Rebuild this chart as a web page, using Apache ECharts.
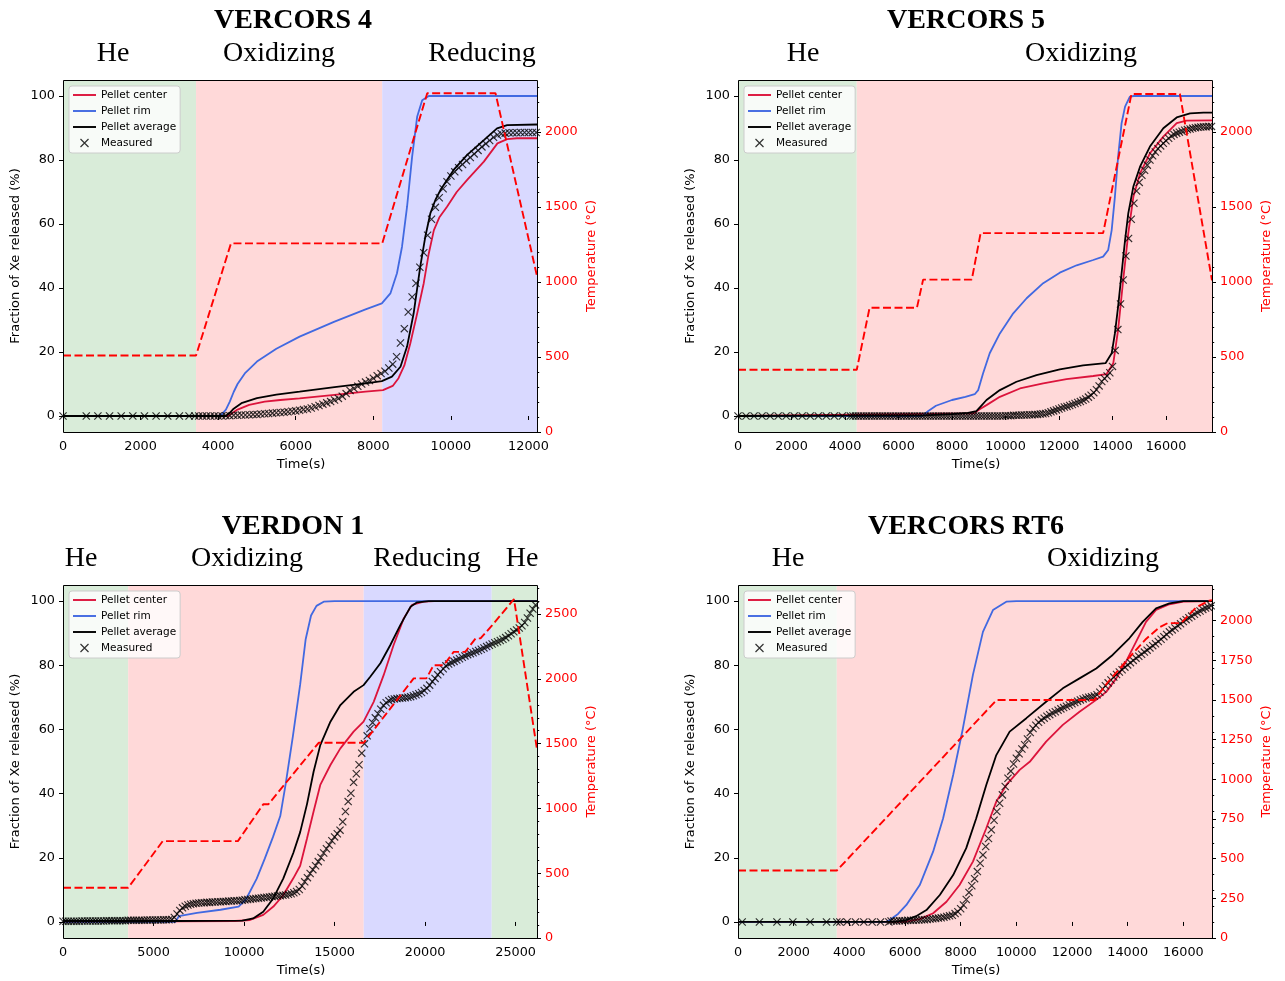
<!DOCTYPE html>
<html><head><meta charset="utf-8">
<script src="https://cdn.jsdelivr.net/npm/echarts@6/dist/echarts.min.js"></script>
<style>html,body{margin:0;padding:0;background:#fff}#c{width:1285px;height:981px}</style>
</head><body><div id="c"></div>
<script>
// ---------------- DATA ----------------
const titles = ['VERCORS 4', 'VERCORS 5', 'VERDON 1', 'VERCORS RT6'];
const seriesNames = ['Pellet center', 'Pellet rim', 'Pellet average', 'Measured'];
const xAxisName = 'Time(s)';
const leftAxisName = 'Fraction of Xe released (%)';
const rightAxisName = 'Temperature (°C)';

const fracTicks = [0, 20, 40, 60, 80, 100];
const xTicksV4 = [0, 2000, 4000, 6000, 8000, 10000, 12000];
const xTicksV5 = [0, 2000, 4000, 6000, 8000, 10000, 12000, 14000, 16000];
const xTicksV1 = [0, 5000, 10000, 15000, 20000, 25000];
const xTicksRT6 = [0, 2000, 4000, 6000, 8000, 10000, 12000, 14000, 16000];
const tTicksV4 = [0, 500, 1000, 1500, 2000];
const tTicksV5 = [0, 500, 1000, 1500, 2000];
const tTicksV1 = [0, 500, 1000, 1500, 2000, 2500];
const tTicksRT6 = [0, 250, 500, 750, 1000, 1250, 1500, 1750, 2000];

// phases: [start, end, atmosphere]
const v4Phases = [[0, 3430, 'He'], [3430, 8230, 'Oxidizing'], [8230, 12220, 'Reducing']];
const v5Phases = [[0, 4440, 'He'], [4440, 17720, 'Oxidizing']];
const v1Phases = [[0, 3600, 'He'], [3600, 16610, 'Oxidizing'], [16610, 23680, 'Reducing'], [23680, 26180, 'He']];
const rt6Phases = [[0, 3550, 'He'], [3550, 17030, 'Oxidizing']];

// ---- VERCORS 4 ----
const v4Center = [[0,0],[4250,0],[4350,0.8],[4500,2.0],[4800,3.5],[5200,4.5],[5600,5.0],[6100,5.5],[7000,6.6],[7800,7.6],[8250,8.1],[8500,9.4],[8650,11.8],[8800,15.8],[8950,22.5],[9130,32],[9300,41.5],[9430,50.8],[9560,58],[9700,62],[9900,65.4],[10150,70],[10420,73.8],[10850,79.5],[11200,85.2],[11450,86.5],[11700,86.8],[12220,86.8]];
const v4Rim = [[0,0],[4000,0],[4100,0.6],[4200,2.0],[4300,4.5],[4400,7.5],[4500,10],[4700,13.5],[5000,17],[5500,21],[6100,24.8],[7000,29.5],[7800,33.3],[8220,35.2],[8440,38.3],[8610,44.6],[8740,52.9],[8870,65.4],[9000,81],[9130,93.5],[9260,98.7],[9430,100],[12220,100]];
const v4Average = [[0,0],[4200,0],[4300,1.0],[4400,2.3],[4600,4.0],[5000,5.6],[5500,6.7],[6100,7.6],[7000,9.0],[7800,10.2],[8220,10.9],[8480,12.3],[8700,15.4],[8870,21.7],[9040,32.1],[9210,46.7],[9340,56],[9470,63.3],[9600,67.5],[9730,70.6],[10070,76.9],[10420,81.6],[10850,86.2],[11190,89.9],[11450,90.9],[12220,91.1]];
const v4Temperature = [[0,510],[3430,510],[4330,1258],[8230,1258],[9390,2260],[11150,2260],[12220,1040]];
const v4Measured = [[0,0],[600,0],[900,0],[1200,0],[1500,0],[1800,0],[2100,0],[2400,0],[2700,0],[3000,0],[3250,0],[3400,0],[3500,0],[3600,0],[3700,0],[3800,0],[3900,0],[4000,0],[4100,0],[4200,0.1],[4300,0.1],[4400,0.2],[4500,0.2],[4600,0.3],[4700,0.3],[4800,0.4],[4900,0.5],[5000,0.5],[5100,0.6],[5200,0.7],[5300,0.8],[5400,0.9],[5500,1.0],[5600,1.1],[5700,1.2],[5800,1.3],[5900,1.5],[6000,1.6],[6100,1.8],[6200,2.0],[6300,2.2],[6400,2.5],[6500,2.9],[6600,3.3],[6700,3.7],[6800,4.1],[6900,4.5],[7000,5.0],[7100,5.5],[7200,6.2],[7300,7.0],[7400,8.0],[7500,8.6],[7600,9.3],[7700,10.0],[7800,10.6],[7900,11.1],[8000,11.8],[8100,12.6],[8200,13.3],[8300,14.0],[8400,15.0],[8500,16.2],[8600,18.5],[8700,22.8],[8800,27.3],[8900,32.5],[9000,37.2],[9100,41.5],[9200,46.5],[9300,51.0],[9400,56.5],[9500,61.5],[9600,65.2],[9700,68.2],[9800,71.0],[9900,73.2],[10000,75.0],[10100,76.3],[10200,77.6],[10300,78.6],[10400,79.8],[10500,80.8],[10600,81.9],[10700,83.0],[10800,84.1],[10900,85.1],[11000,86.1],[11100,87.1],[11200,87.8],[11300,88.2],[11400,88.4],[11500,88.5],[11600,88.5],[11700,88.5],[11800,88.6],[11900,88.6],[12000,88.6],[12100,88.6],[12200,88.6]];

// ---- VERCORS 5 ----
const v5Center = [[0,0],[8800,0.8],[8910,1.4],[9050,2.2],[9290,3.4],[9790,6.0],[10540,8.6],[11410,10.2],[12280,11.5],[13280,12.5],[13780,13.1],[14030,16.5],[14210,26.9],[14400,42.5],[14590,57.1],[14780,68.5],[15030,75.8],[15400,82.1],[15900,87.3],[16400,91.5],[16770,92.3],[17720,92.4]];
const v5Rim = [[0,0],[6900,0],[7100,1.5],[7400,3.2],[8000,5.0],[8500,6.0],[8850,6.8],[8980,8.1],[9160,13.3],[9410,19.6],[9790,25.8],[10290,32.1],[10790,36.8],[11410,41.5],[12030,44.8],[12660,47.1],[13280,48.75],[13650,49.8],[13840,51.9],[13970,58.1],[14090,68.5],[14210,81],[14340,91.5],[14470,96.7],[14650,99.8],[14800,100],[17720,100]];
const v5Average = [[0,0],[7000,0.2],[8000,0.6],[8600,1.0],[8910,1.5],[9050,2.8],[9290,5.0],[9790,8.1],[10410,10.7],[11160,12.8],[12030,14.6],[12900,15.8],[13740,16.5],[13970,19.6],[14090,25.8],[14210,34.2],[14340,44.6],[14470,55],[14590,63.3],[14780,71.7],[15030,77.9],[15400,84.2],[15900,89.9],[16400,93.3],[16900,94.6],[17400,94.8],[17720,94.8]];
const v5Temperature = [[0,415],[4440,415],[4920,828],[6690,828],[6920,1015],[8740,1015],[9070,1325],[13650,1325],[14710,2252],[16520,2252],[17720,1010]];
const v5Measured = [[0,0],[300,0],[600,0],[900,0],[1200,0],[1500,0],[1800,0],[2100,0],[2400,0],[2700,0],[3000,0],[3300,0],[3600,0],[3900,0],[4200,0],[4300,0],[4400,0],[4500,0],[4600,0],[4700,0],[4800,0],[4900,0],[5000,0],[5100,0],[5200,0],[5300,0],[5400,0],[5500,0],[5600,0],[5700,0],[5800,0],[5900,0],[6000,0],[6100,0],[6200,0],[6300,0],[6400,0],[6500,0],[6600,0],[6700,0],[6800,0],[6900,0],[7000,0],[7100,0],[7200,0],[7300,0],[7400,0],[7500,0],[7600,0],[7700,0],[7800,0],[7900,0],[8000,0],[8100,0],[8200,0],[8300,0],[8400,0],[8500,0],[8600,0],[8700,0],[8800,0],[8900,0],[9000,0],[9100,0],[9200,0],[9300,0],[9400,0],[9500,0],[9600,0],[9700,0],[9800,0],[9900,0],[10000,0.1],[10100,0.1],[10200,0.1],[10300,0.2],[10400,0.2],[10500,0.2],[10600,0.3],[10700,0.3],[10800,0.3],[10900,0.4],[11000,0.4],[11100,0.5],[11200,0.5],[11300,0.6],[11400,0.7],[11500,0.8],[11600,1.0],[11700,1.3],[11800,1.6],[11900,1.9],[12000,2.2],[12100,2.5],[12200,2.8],[12300,3.0],[12400,3.3],[12500,3.6],[12600,3.9],[12700,4.2],[12800,4.5],[12900,4.9],[13000,5.3],[13100,5.9],[13200,6.5],[13300,7.3],[13400,8.2],[13500,9.4],[13600,10.8],[13700,11.7],[13800,12.5],[13900,13.5],[14000,15.5],[14100,20.5],[14200,27],[14300,35],[14400,42.5],[14500,50],[14600,55.5],[14700,61.5],[14800,66.5],[14900,70.3],[15000,73],[15100,75.2],[15200,76.8],[15300,78.4],[15400,80],[15500,81.3],[15600,82.5],[15700,83.5],[15800,84.4],[15900,85.2],[16000,86],[16100,86.8],[16200,87.5],[16300,88],[16400,88.4],[16500,88.7],[16600,89],[16700,89.3],[16800,89.5],[16900,89.7],[17000,89.9],[17100,90.1],[17200,90.2],[17300,90.3],[17400,90.4],[17500,90.4],[17600,90.5],[17700,90.5]];

// ---- VERDON 1 ----
const v1Center = [[0,0],[6300,0.2],[9500,0.3],[10330,0.6],[11060,2.2],[11620,4.8],[12170,8.4],[12720,13.6],[13100,17.5],[13480,26.1],[13840,34.4],[14210,42.7],[14770,48.9],[15320,54.1],[16050,59.3],[16600,62.4],[17160,68.6],[17710,76.9],[18260,86.3],[18820,94.6],[19280,98.8],[19920,99.8],[20500,100],[26180,100]];
const v1Rim = [[0,0],[6200,0],[6400,1.8],[7400,2.8],[8700,3.8],[9700,4.8],[10100,7],[10700,13.5],[11150,19.8],[11600,26.5],[12000,33],[12300,43],[12700,58],[13100,74],[13400,88],[13700,95.5],[14000,98.5],[14400,99.8],[15000,100],[26180,100]];
const v1Average = [[0,0.3],[6300,0.3],[9900,0.4],[10500,1.1],[11060,3.2],[11620,7.4],[12170,13.6],[12720,21.5],[13100,28],[13480,36.8],[13840,46.8],[14210,55.1],[14770,62.4],[15320,67.6],[16050,71.7],[16600,73.8],[16970,76.4],[17530,80.6],[18080,86.3],[18630,92.5],[19190,98.2],[19560,99.6],[20200,100],[26180,100]];
const v1Temperature = [[0,388],[3600,388],[5510,748],[9660,748],[11060,1032],[11340,1032],[14120,1507],[16610,1507],[19370,2004],[20070,2004],[20470,2106],[21030,2106],[21580,2209],[22220,2209],[22790,2313],[23060,2313],[23710,2415],[24910,2616],[26180,1455]];
const v1Measured = [[0,0.2],[150,0.2],[300,0.2],[450,0.2],[600,0.2],[750,0.2],[900,0.2],[1050,0.3],[1200,0.3],[1350,0.3],[1500,0.3],[1650,0.3],[1800,0.3],[1950,0.3],[2100,0.3],[2250,0.3],[2400,0.4],[2550,0.4],[2700,0.4],[2850,0.4],[3000,0.4],[3150,0.4],[3300,0.4],[3450,0.4],[3600,0.5],[3750,0.5],[3900,0.5],[4050,0.5],[4200,0.5],[4350,0.5],[4500,0.5],[4650,0.6],[4800,0.6],[4950,0.6],[5100,0.6],[5250,0.6],[5400,0.6],[5550,0.7],[5700,0.7],[5850,0.7],[6000,0.8],[6150,1.4],[6300,2.5],[6450,3.6],[6600,4.4],[6750,4.9],[6900,5.3],[7050,5.5],[7200,5.7],[7350,5.8],[7500,5.9],[7650,6.0],[7800,6.0],[7950,6.1],[8100,6.1],[8250,6.2],[8400,6.2],[8550,6.3],[8700,6.3],[8850,6.4],[9000,6.4],[9150,6.5],[9300,6.5],[9450,6.6],[9600,6.6],[9750,6.7],[9900,6.8],[10050,6.9],[10200,7.0],[10350,7.1],[10500,7.2],[10650,7.3],[10800,7.4],[10950,7.5],[11100,7.6],[11250,7.7],[11400,7.8],[11550,7.9],[11700,8.0],[11850,8.1],[12000,8.2],[12150,8.3],[12300,8.4],[12450,8.6],[12600,8.8],[12750,9.1],[12900,9.5],[13050,10.1],[13200,11.2],[13350,12.5],[13500,13.8],[13650,15.1],[13800,16.3],[13950,17.5],[14100,18.8],[14250,20.1],[14400,21.5],[14550,22.8],[14700,24.0],[14850,25.3],[15000,26.5],[15150,27.5],[15300,28.6],[15450,31.2],[15600,34.4],[15750,37.5],[15900,40.1],[16050,43.5],[16200,46.2],[16350,49.0],[16500,52.6],[16650,55.5],[16800,58.0],[16950,60.2],[17100,62.1],[17250,63.6],[17400,64.9],[17550,66.3],[17700,67.5],[17850,68.3],[18000,68.9],[18150,69.3],[18300,69.5],[18450,69.6],[18600,69.7],[18750,69.8],[18900,69.9],[19050,70.0],[19200,70.2],[19350,70.5],[19500,70.8],[19650,71.1],[19800,71.5],[19950,72.1],[20100,72.8],[20250,73.8],[20400,74.9],[20550,75.9],[20700,77.0],[20850,78.0],[21000,78.9],[21150,79.8],[21300,80.4],[21450,80.8],[21600,81.2],[21750,81.6],[21900,82.0],[22050,82.5],[22200,82.9],[22350,83.3],[22500,83.6],[22650,83.9],[22800,84.3],[22950,84.6],[23100,85.0],[23250,85.4],[23400,85.8],[23550,86.2],[23700,86.6],[23850,87.0],[24000,87.3],[24150,87.7],[24300,88.1],[24450,88.6],[24600,89.2],[24750,89.8],[24900,90.4],[25050,91.0],[25200,91.6],[25350,92.3],[25500,93.3],[25650,94.7],[25800,96.2],[25950,97.5],[26100,98.8]];

// ---- VERCORS RT6 ----
const rt6Center = [[0,0],[6000,0],[6530,0.9],[7010,2.7],[7490,6.3],[7960,11.5],[8440,18.8],[8920,29.2],[9280,37.5],[9640,42.7],[10120,47.4],[10480,49.9],[11070,56.2],[11670,61.4],[12270,65.5],[12870,69.2],[13230,71.7],[13590,75.9],[13940,81.1],[14300,87.3],[14660,93.5],[15020,97.2],[15500,99],[16000,99.8],[17030,100]];
const rt6Rim = [[0,0],[5300,0],[5450,0.6],[5750,2.5],[6050,5.3],[6530,11.5],[7010,21.9],[7370,32.3],[7730,45.8],[8080,60.3],[8440,77],[8800,90.4],[9160,97.2],[9640,99.8],[10000,100],[17030,100]];
const rt6Average = [[0,0],[5600,0],[6050,0.6],[6400,1.8],[6770,3.7],[7250,8.4],[7730,14.6],[8200,23],[8560,32.3],[8920,42.7],[9280,52],[9760,59.3],[10360,63.5],[11070,68.6],[11670,72.8],[12270,75.9],[12870,79],[13460,83.2],[14060,88.4],[14540,93.5],[15020,97.7],[15500,99.3],[16000,100],[17030,100]];
const rt6Temperature = [[0,425],[3550,425],[9290,1500],[12800,1500],[13290,1612],[14060,1769],[14660,1885],[15140,1958],[15440,1985],[15920,1985],[16460,2084],[16930,2126],[17030,2130]];
const rt6Measured = [[150,0],[770,0],[1400,0],[1970,0],[2590,0],[3180,0],[3550,0],[3660,0],[3920,0],[4220,0],[4520,0],[4820,0],[5120,0],[5420,0],[5500,0.3],[5600,0.3],[5700,0.3],[5800,0.4],[5900,0.4],[6000,0.4],[6100,0.5],[6200,0.5],[6300,0.5],[6400,0.6],[6500,0.6],[6600,0.7],[6700,0.7],[6800,0.8],[6900,0.9],[7000,1.0],[7100,1.1],[7200,1.2],[7300,1.3],[7400,1.5],[7500,1.7],[7600,1.9],[7700,2.1],[7800,2.6],[7900,3.2],[8000,4.1],[8100,5.3],[8200,7.0],[8300,9.2],[8400,11.3],[8500,13.5],[8600,15.7],[8700,18.3],[8800,20.9],[8900,23.5],[9000,26],[9100,28.7],[9200,31.7],[9300,34.4],[9400,37],[9500,39.6],[9600,42.2],[9700,44.8],[9800,47],[9900,49.2],[10000,51],[10100,52.4],[10200,53.9],[10300,55.2],[10400,57],[10500,59],[10600,60.3],[10700,61.3],[10800,62.2],[10900,62.9],[11000,63.5],[11100,64.1],[11200,64.6],[11300,65.1],[11400,65.5],[11500,66],[11600,66.4],[11700,66.8],[11800,67.2],[11900,67.6],[12000,68],[12100,68.4],[12200,68.8],[12300,69.2],[12400,69.5],[12500,69.8],[12600,70],[12700,70.2],[12800,70.4],[12900,70.8],[13000,71.6],[13100,72.6],[13200,73.6],[13300,74.5],[13400,75.4],[13500,76.3],[13600,77.1],[13700,77.9],[13800,78.6],[13900,79.4],[14000,80.1],[14100,80.8],[14200,81.5],[14300,82.2],[14400,82.8],[14500,83.4],[14600,84.1],[14700,84.7],[14800,85.4],[14900,86.1],[15000,86.7],[15100,87.4],[15200,88.1],[15300,88.9],[15400,89.6],[15500,90.4],[15600,91],[15700,91.6],[15800,92.3],[15900,92.9],[16000,93.6],[16100,94.2],[16200,94.8],[16300,95.3],[16400,95.9],[16500,96.4],[16600,96.9],[16700,97.4],[16800,97.8],[16900,98.1],[17000,98.5]];

// ---------------- LAYOUT / STYLE ----------------
const FONT = 'DejaVu Sans';
const SERIF = 'Liberation Serif';
const phaseColor = { 'He': '#d9ecd9', 'Oxidizing': '#ffd9d9', 'Reducing': '#d9d9ff' };
const colCenter = '#dc143c', colRim = '#4169e1', colAvg = '#000000', colTemp = '#ff0000';
const LINE_ICON = 'path://M0,0L24,0L24,2L0,2Z';
const X_PATH = 'path://M0,0L10,10M10,0L0,10';

const panels = [
  { left: 63, top: 80, width: 474, height: 352, xMax: 12220, tMax: 2348, xTicks: xTicksV4, tTicks: tTicksV4,
    phases: v4Phases, center: v4Center, rim: v4Rim, avg: v4Average, meas: v4Measured, temp: v4Temperature,
    titleX: 293, titleY: 21, phaseY: 54, phaseX: [113, 279, 482], labels: ['He', 'Oxidizing', 'Reducing'] },
  { left: 738, top: 80, width: 474, height: 352, xMax: 17720, tMax: 2345, xTicks: xTicksV5, tTicks: tTicksV5,
    phases: v5Phases, center: v5Center, rim: v5Rim, avg: v5Average, meas: v5Measured, temp: v5Temperature,
    titleX: 966, titleY: 21, phaseY: 54, phaseX: [803, 1081], labels: ['He', 'Oxidizing'] },
  { left: 63, top: 585, width: 474, height: 353, xMax: 26180, tMax: 2725, xTicks: xTicksV1, tTicks: tTicksV1,
    phases: v1Phases, center: v1Center, rim: v1Rim, avg: v1Average, meas: v1Measured, temp: v1Temperature,
    titleX: 293, titleY: 527, phaseY: 559, phaseX: [81, 247, 427, 522], labels: ['He', 'Oxidizing', 'Reducing', 'He'] },
  { left: 738, top: 585, width: 474, height: 353, xMax: 17030, tMax: 2225, xTicks: xTicksRT6, tTicks: tTicksRT6,
    phases: rt6Phases, center: rt6Center, rim: rt6Rim, avg: rt6Average, meas: rt6Measured, temp: rt6Temperature,
    titleX: 966, titleY: 527, phaseY: 559, phaseX: [788, 1103], labels: ['He', 'Oxidizing'] }
];

function minorTicks(max) {
  const out = [];
  for (let v = 100; v < max; v += 100) if (v % 500 !== 0) out.push(v);
  return out;
}
const plain = v => String(v);

const grid = [], xAxis = [], yAxis = [], series = [], legend = [], graphic = [];
const tickLine = { color: '#000', width: 1 };
const labelStyle = { fontFamily: FONT, fontSize: 12.8, color: '#000', formatter: plain };

panels.forEach((p, i) => {
  grid.push({ left: p.left, top: p.top, width: p.width, height: p.height, show: false });
  xAxis.push({ type: 'value', gridIndex: i, min: 0, max: p.xMax,
    axisLine: { show: false }, splitLine: { show: false },
    axisTick: { show: true, customValues: p.xTicks, length: 4, lineStyle: tickLine },
    axisLabel: Object.assign({ customValues: p.xTicks, margin: 8 }, labelStyle) });
  yAxis.push({ type: 'value', gridIndex: i, position: 'left', min: -5, max: 105,
    axisLine: { show: false }, splitLine: { show: false },
    axisTick: { show: true, customValues: fracTicks, length: 4, lineStyle: tickLine },
    axisLabel: Object.assign({ customValues: fracTicks, margin: 8 }, labelStyle) });
  yAxis.push({ type: 'value', gridIndex: i, position: 'right', min: 0, max: p.tMax,
    axisLine: { show: false }, splitLine: { show: false },
    axisTick: { show: true, customValues: p.tTicks, length: 4, lineStyle: tickLine },
    axisLabel: Object.assign({}, labelStyle, { customValues: p.tTicks, margin: 8, color: colTemp }) });
  yAxis.push({ type: 'value', gridIndex: i, position: 'right', min: 0, max: p.tMax,
    axisLine: { show: false }, splitLine: { show: false },
    axisTick: { show: true, customValues: minorTicks(p.tMax), length: 2.2, lineStyle: tickLine },
    axisLabel: { show: false } });

  const yl = 3 * i, yr = 3 * i + 1;
  series.push({ type: 'custom', xAxisIndex: i, yAxisIndex: yl, z: 0, silent: true,
    data: p.phases.map(b => [b[0], b[1]]),
    encode: { x: [0, 1] },
    renderItem: (params, api) => {
      const x0 = api.coord([api.value(0), 50])[0];
      const x1 = api.coord([api.value(1), 50])[0];
      const cs = params.coordSys;
      return { type: 'rect', shape: { x: x0, y: cs.y, width: x1 - x0, height: cs.height },
        style: { fill: phaseColor[p.phases[params.dataIndex][2]] } };
    } });
  const mkLine = (name, data, color, z) => ({ name, type: 'line', xAxisIndex: i, yAxisIndex: yl, data,
    symbol: 'none', showSymbol: false, z, lineStyle: { color, width: 1.8 }, itemStyle: { color } });
  series.push(mkLine(seriesNames[0], p.center, colCenter, 2));
  series.push(mkLine(seriesNames[1], p.rim, colRim, 3));
  series.push(mkLine(seriesNames[2], p.avg, colAvg, 4));
  series.push({ name: seriesNames[3], type: 'scatter', xAxisIndex: i, yAxisIndex: yl, data: p.meas, z: 5,
    symbol: X_PATH, symbolSize: 7.2,
    itemStyle: { color: 'rgba(0,0,0,0)', borderColor: '#000', borderWidth: 1.15 } });
  series.push({ name: 'Temperature', type: 'line', xAxisIndex: i, yAxisIndex: yr, data: p.temp, z: 6,
    symbol: 'none', showSymbol: false, lineStyle: { color: colTemp, width: 1.9, type: [8, 3.5] } });

  legend.push({ left: p.left + 6, top: p.top + 6, orient: 'vertical', selectedMode: false,
    data: [
      { name: seriesNames[0], icon: LINE_ICON, itemStyle: { color: colCenter, borderWidth: 0 } },
      { name: seriesNames[1], icon: LINE_ICON, itemStyle: { color: colRim, borderWidth: 0 } },
      { name: seriesNames[2], icon: LINE_ICON, itemStyle: { color: colAvg, borderWidth: 0 } },
      { name: seriesNames[3], icon: X_PATH, itemStyle: { color: 'rgba(0,0,0,0)', borderColor: '#000', borderWidth: 1.2 } }
    ],
    itemWidth: 23, itemHeight: 8, itemGap: 4, padding: [3, 4, 4, 4],
    backgroundColor: 'rgba(255,255,255,0.8)', borderColor: '#cccccc', borderWidth: 1, borderRadius: 3,
    textStyle: { fontFamily: FONT, fontSize: 10.5, color: '#000', lineHeight: 12 } });

  graphic.push({ type: 'rect', z: 100, silent: true,
    shape: { x: p.left + 0.5, y: p.top + 0.5, width: p.width, height: p.height },
    style: { fill: 'none', stroke: '#000', lineWidth: 1 } });
  graphic.push({ type: 'text', x: p.titleX, y: p.titleY, z: 100,
    style: { text: titles[i], font: 'bold 28px "' + SERIF + '"', fill: '#000',
      textAlign: 'center', textVerticalAlign: 'middle', align: 'center', verticalAlign: 'middle' } });
  p.labels.forEach((lab, k) => {
    graphic.push({ type: 'text', x: p.phaseX[k], y: p.phaseY, z: 100,
      style: { text: lab, font: '28px "' + SERIF + '"', fill: '#000',
        textAlign: 'center', textVerticalAlign: 'middle', align: 'center', verticalAlign: 'middle' } });
  });
  const midY = p.top + p.height / 2;
  graphic.push({ type: 'text', x: p.left - 47, y: midY, rotation: Math.PI / 2, z: 100,
    style: { text: leftAxisName, font: '13px "' + FONT + '"', fill: '#000',
      textAlign: 'center', textVerticalAlign: 'middle', align: 'center', verticalAlign: 'middle' } });
  graphic.push({ type: 'text', x: p.left + p.width + 55, y: midY, rotation: Math.PI / 2, z: 100,
    style: { text: rightAxisName, font: '13px "' + FONT + '"', fill: colTemp,
      textAlign: 'center', textVerticalAlign: 'middle', align: 'center', verticalAlign: 'middle' } });
  graphic.push({ type: 'text', x: p.left + p.width / 2 + 1, y: p.top + p.height + 33, z: 100,
    style: { text: xAxisName, font: '13px "' + FONT + '"', fill: '#000',
      textAlign: 'center', textVerticalAlign: 'middle', align: 'center', verticalAlign: 'middle' } });
});

const chart = echarts.init(document.getElementById('c'), null, { renderer: 'canvas' });
chart.setOption({ animation: false, backgroundColor: '#ffffff', grid, xAxis, yAxis, series, legend, graphic });
</script></body></html>
